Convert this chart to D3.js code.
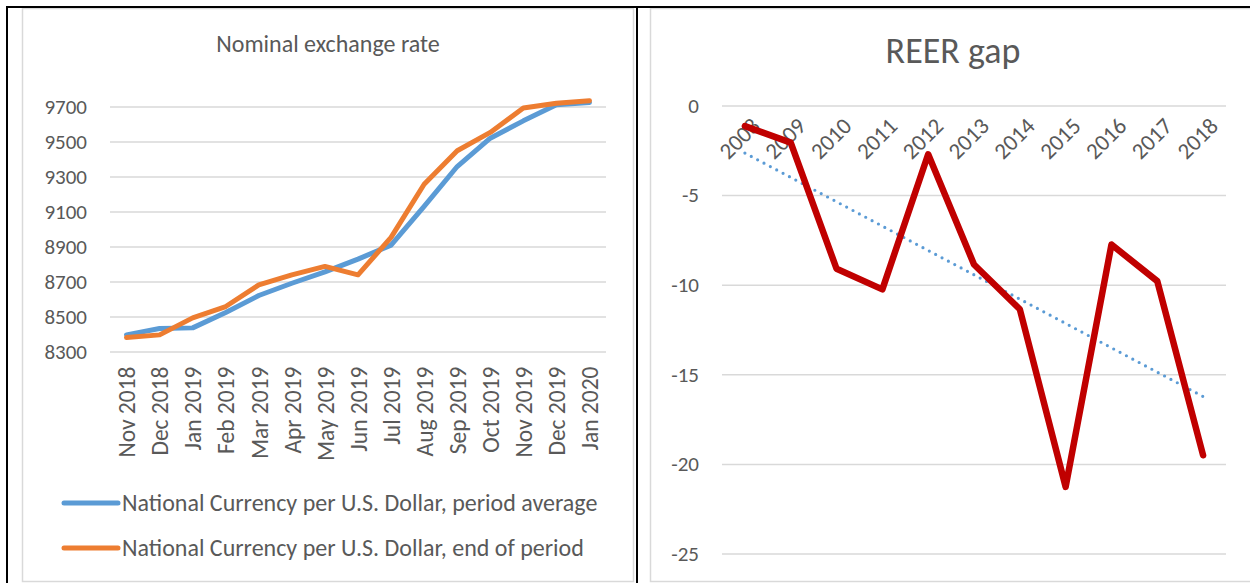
<!DOCTYPE html>
<html>
<head>
<meta charset="utf-8">
<script src="https://cdn.jsdelivr.net/npm/d3@7"></script>
<style>
  body { margin: 0; background: #fff; }
  svg { display: block; }
  text { font-family: Calibri, Carlito, Lato, sans-serif; fill: #595959; }
</style>
</head>
<body>
<div id="chart"></div>
<script>
// left chart data
var months = ["Nov 2018", "Dec 2018", "Jan 2019", "Feb 2019", "Mar 2019", "Apr 2019", "May 2019",
  "Jun 2019", "Jul 2019", "Aug 2019", "Sep 2019", "Oct 2019", "Nov 2019", "Dec 2019", "Jan 2020"];
var periodAverage = [8395, 8431, 8435, 8523, 8620, 8690, 8755, 8828, 8908, 9129, 9357, 9519, 9618, 9710, 9723];
var endOfPeriod = [8380, 8395, 8492, 8557, 8681, 8738, 8786, 8738, 8952, 9256, 9447, 9552, 9691, 9719, 9733];
var rateTicks = [8300, 8500, 8700, 8900, 9100, 9300, 9500, 9700];
var seriesNames = ["National Currency per U.S. Dollar, period average", "National Currency per U.S. Dollar, end of period"];

// right chart data
var years = ["2008", "2009", "2010", "2011", "2012", "2013", "2014", "2015", "2016", "2017", "2018"];
var reerGap = [-1.15, -2.07, -9.11, -10.26, -2.72, -8.87, -11.37, -21.28, -7.76, -9.8, -19.52];
var gapTicks = [0, -5, -10, -15, -20, -25];

var W = 1250, H = 583;
var grid = "#d9d9d9", blue = "#5b9bd5", orange = "#ed7d31", red = "#c00000";

var svg = d3.select("#chart").append("svg")
  .attr("width", W).attr("height", H);

// frames
svg.append("rect").attr("x", 22.5).attr("y", 8.5).attr("width", 611).attr("height", 573)
  .style("fill", "none").style("stroke", grid).style("stroke-width", 1.5);
svg.append("rect").attr("x", 650.5).attr("y", 8.5).attr("width", 640).attr("height", 573)
  .style("fill", "none").style("stroke", grid).style("stroke-width", 1.5);
svg.append("line").attr("x1", 6).attr("x2", W).attr("y1", 7).attr("y2", 7)
  .style("stroke", "#000").style("stroke-width", 2);
svg.append("line").attr("x1", 7).attr("x2", 7).attr("y1", 6).attr("y2", H)
  .style("stroke", "#000").style("stroke-width", 2);
svg.append("line").attr("x1", 637).attr("x2", 637).attr("y1", 6).attr("y2", H)
  .style("stroke", "#000").style("stroke-width", 2);

// ---------- Nominal exchange rate ----------
var x1 = d3.scalePoint().domain(months).range([110, 606]).padding(0.5);
var y1 = d3.scaleLinear().domain([8300, 9700]).range([351.5, 106.5]);

var g1 = svg.append("g");

g1.append("text")
  .attr("x", 328).attr("y", 52)
  .attr("font-size", "24px")
  .style("text-anchor", "middle")
  .text("Nominal exchange rate");

var yAxis1 = g1.append("g")
  .attr("transform", "translate(110,0)")
  .call(d3.axisLeft(y1).tickValues(rateTicks).tickSize(-496).tickFormat(function(d) { return String(d); }));
yAxis1.select(".domain").remove();
yAxis1.selectAll(".tick line").style("stroke", grid).style("stroke-width", 1.5);
yAxis1.selectAll(".tick text").attr("x", -23).attr("font-size", "21px").style("fill", "#595959");

var xAxis1 = g1.append("g")
  .attr("transform", "translate(0,351.5)")
  .call(d3.axisBottom(x1).tickSize(0));
xAxis1.select(".domain").remove();
xAxis1.selectAll(".tick text")
  .attr("font-size", "23.5px")
  .style("fill", "#595959")
  .style("text-anchor", "end")
  .attr("transform", "rotate(-90)")
  .attr("x", -15).attr("y", 0).attr("dy", "0.35em");

var line1 = d3.line()
  .x(function(d, i) { return x1(months[i]); })
  .y(function(d) { return y1(d); });

g1.append("path").datum(periodAverage)
  .attr("d", line1)
  .style("fill", "none").style("stroke", blue).style("stroke-width", 5)
  .style("stroke-linejoin", "round").style("stroke-linecap", "round");
g1.append("path").datum(endOfPeriod)
  .attr("d", line1)
  .style("fill", "none").style("stroke", orange).style("stroke-width", 5)
  .style("stroke-linejoin", "round").style("stroke-linecap", "round");

// legend
var legend = g1.selectAll(".legend").data(seriesNames).enter().append("g")
  .attr("transform", function(d, i) { return "translate(62," + (503 + i * 45) + ")"; });
legend.append("line")
  .attr("x1", 2).attr("x2", 56).attr("y1", 0).attr("y2", 0)
  .style("stroke", function(d, i) { return i === 0 ? blue : orange; })
  .style("stroke-width", 5).style("stroke-linecap", "round");
legend.append("text")
  .attr("x", 60).attr("y", 0).attr("dy", "0.35em")
  .attr("font-size", "24px")
  .text(function(d) { return d; });

// ---------- REER gap ----------
var x2 = d3.scalePoint().domain(years).range([722, 1226]).padding(0.5);
var y2 = d3.scaleLinear().domain([-25, 0]).range([553.5, 105.5]);

var g2 = svg.append("g");

g2.append("text")
  .attr("x", 953).attr("y", 63)
  .attr("font-size", "36px")
  .style("text-anchor", "middle")
  .text("REER gap");

var yAxis2 = g2.append("g")
  .attr("transform", "translate(722,0)")
  .call(d3.axisLeft(y2).tickValues(gapTicks).tickSize(-504).tickFormat(function(d) { return String(d); }));
yAxis2.select(".domain").remove();
yAxis2.selectAll(".tick line").style("stroke", grid).style("stroke-width", 1.5);
yAxis2.selectAll(".tick text").attr("x", -23).attr("font-size", "21px").style("fill", "#595959");

var xAxis2 = g2.append("g")
  .attr("transform", "translate(0," + y2(0) + ")")
  .call(d3.axisBottom(x2).tickSize(0));
xAxis2.select(".domain").remove();
xAxis2.selectAll(".tick text")
  .attr("font-size", "23px")
  .style("fill", "#595959")
  .style("text-anchor", "end")
  .attr("y", 0).attr("dy", 0)
  .attr("transform", "translate(16,22) rotate(-45)");

// linear trendline from the series (Excel style)
var n = reerGap.length, mx = (n - 1) / 2, my = d3.mean(reerGap), sxy = 0, sxx = 0;
reerGap.forEach(function(v, i) { sxy += (i - mx) * (v - my); sxx += (i - mx) * (i - mx); });
var slope = sxy / sxx, icpt = my - slope * mx;

g2.append("line")
  .attr("x1", x2(years[0])).attr("y1", y2(icpt))
  .attr("x2", x2(years[n - 1])).attr("y2", y2(icpt + slope * (n - 1)))
  .style("stroke", blue).style("stroke-width", 3.2)
  .style("stroke-linecap", "round").style("stroke-dasharray", "0 7.2");

var line2 = d3.line()
  .x(function(d, i) { return x2(years[i]); })
  .y(function(d) { return y2(d); });

g2.append("path").datum(reerGap)
  .attr("d", line2)
  .style("fill", "none").style("stroke", red).style("stroke-width", 6.5)
  .style("stroke-linejoin", "round").style("stroke-linecap", "round");
</script>
</body>
</html>
